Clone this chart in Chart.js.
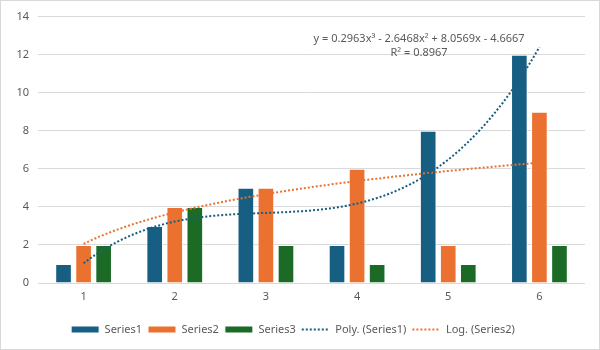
<!DOCTYPE html>
<html lang="en">
<head>
  <meta charset="UTF-8">
  <title>Series with trendlines</title>
  <script src="https://cdn.jsdelivr.net/npm/chart.js"></script>
  <style>
    body {
      margin: 0;
      background: #fff;
    }
    .chart-box {
      width: 598px;
      height: 348px;
      border: 1px solid #d9d9d9;
      background: #fff;
    }
  </style>
</head>
<body>
  <div class="chart-box"><canvas id="chart"></canvas></div>

  <script>
    const categories = ['1', '2', '3', '4', '5', '6'];
    const series1 = [1, 3, 5, 2, 8, 12];
    const series2 = [2, 4, 5, 6, 2, 9];
    const series3 = [2, 4, 2, 1, 1, 2];
    const yTicks = [0, 2, 4, 6, 8, 10, 12, 14];

    // cubic fit of Series1, highest power first (as printed on the chart)
    const polyCoef = [0.2963, -2.6468, 8.0569, -4.6667];
    const polyLabel = ['y = 0.2963x³ - 2.6468x² + 8.0569x - 4.6667', 'R² = 0.8967'];

    const blue = '#175e83';
    const orange = '#eb7130';
    const green = '#1b6b26';
    const textColor = '#595959';

    // categories sit at x = 1..6 on a linear axis so the trendlines can run between them
    const toPoints = ys => ys.map((y, i) => ({ x: i + 1, y }));

    const xs = [];
    for (let i = 0; i <= 50; i++) xs.push(1 + i * 0.1);

    const polyAt = x => polyCoef.reduce((acc, c) => acc * x + c, 0);

    // least squares y = a*ln(x) + b
    function logFit(ys) {
      const lx = ys.map((_, i) => Math.log(i + 1));
      const n = ys.length;
      const mx = lx.reduce((s, v) => s + v, 0) / n;
      const my = ys.reduce((s, v) => s + v, 0) / n;
      let sxy = 0, sxx = 0;
      lx.forEach((v, i) => { sxy += (v - mx) * (ys[i] - my); sxx += (v - mx) * (v - mx); });
      const a = sxy / sxx;
      return { a, b: my - a * mx };
    }
    const lf = logFit(series2);

    const polyPoints = xs.map(x => ({ x, y: polyAt(x) }));
    const logPoints = xs.map(x => ({ x, y: lf.a * Math.log(x) + lf.b }));

    const barStyle = color => ({
      backgroundColor: color,
      borderColor: '#ffffff',
      borderWidth: 1,
      pointStyle: 'rect',
      categoryPercentage: 0.66,
      barPercentage: 0.83,
      order: 1
    });

    const lineStyle = color => ({
      type: 'line',
      borderColor: color,
      backgroundColor: color,
      borderWidth: 2,
      borderDash: [2, 2],
      pointRadius: 0,
      pointStyle: 'line',
      fill: false,
      tension: 0,
      order: 0
    });

    // trendline equation text, anchored in data coordinates
    const equationText = {
      id: 'equationText',
      afterDatasetsDraw(chart) {
        const { ctx, scales } = chart;
        const x = scales.x.getPixelForValue(4.68);
        const y = scales.y.getPixelForValue(12.82);
        ctx.save();
        ctx.font = '11px "Noto Sans"';
        ctx.fillStyle = textColor;
        ctx.textAlign = 'center';
        ctx.textBaseline = 'middle';
        ctx.fillText(polyLabel[0], x, y);
        ctx.fillText(polyLabel[1], x, y + 14);
        ctx.restore();
      }
    };

    Chart.defaults.font.family = '"Noto Sans", sans-serif';
    Chart.defaults.font.size = 11;
    Chart.defaults.color = textColor;

    const legendDefault = Chart.defaults.plugins.legend.labels.generateLabels;

    new Chart(document.getElementById('chart').getContext('2d'), {
      type: 'bar',
      data: {
        datasets: [
          { label: 'Series1', data: toPoints(series1), ...barStyle(blue) },
          { label: 'Series2', data: toPoints(series2), ...barStyle(orange) },
          { label: 'Series3', data: toPoints(series3), ...barStyle(green) },
          { label: 'Poly. (Series1)', data: polyPoints, ...lineStyle(blue) },
          { label: 'Log. (Series2)', data: logPoints, ...lineStyle(orange) }
        ]
      },
      options: {
        responsive: true,
        maintainAspectRatio: false,
        animation: false,
        layout: { padding: { top: 13, right: 14, left: 0, bottom: 4 } },
        scales: {
          x: {
            type: 'linear',
            min: 0.5,
            max: 6.5,
            offset: false,
            afterBuildTicks: scale => { scale.ticks = categories.map((_, i) => ({ value: i + 1 })); },
            afterFit: scale => { scale.height = 35; },
            grid: { display: false, drawTicks: false, offset: false },
            border: { display: false },
            ticks: {
              padding: 7,
              callback: value => categories[value - 1]
            }
          },
          y: {
            min: 0,
            max: 14,
            afterBuildTicks: scale => { scale.ticks = yTicks.map(v => ({ value: v })); },
            afterFit: scale => { scale.width = 37; },
            grid: { color: '#d9d9d9', drawTicks: false },
            border: { display: false },
            ticks: { padding: 9 }
          }
        },
        plugins: {
          legend: {
            position: 'bottom',
            labels: {
              usePointStyle: true,
              pointStyleWidth: 28,
              boxHeight: 7,
              padding: 6,
              color: textColor,
              sort: (a, b) => a.datasetIndex - b.datasetIndex,
              generateLabels: chart => {
                const items = legendDefault(chart);
                items.forEach(item => {
                  const ds = chart.data.datasets[item.datasetIndex];
                  if (ds.type === 'line') item.lineDash = ds.borderDash;
                });
                return items;
              }
            }
          },
          tooltip: { enabled: false }
        }
      },
      plugins: [equationText]
    });
  </script>
</body>
</html>
